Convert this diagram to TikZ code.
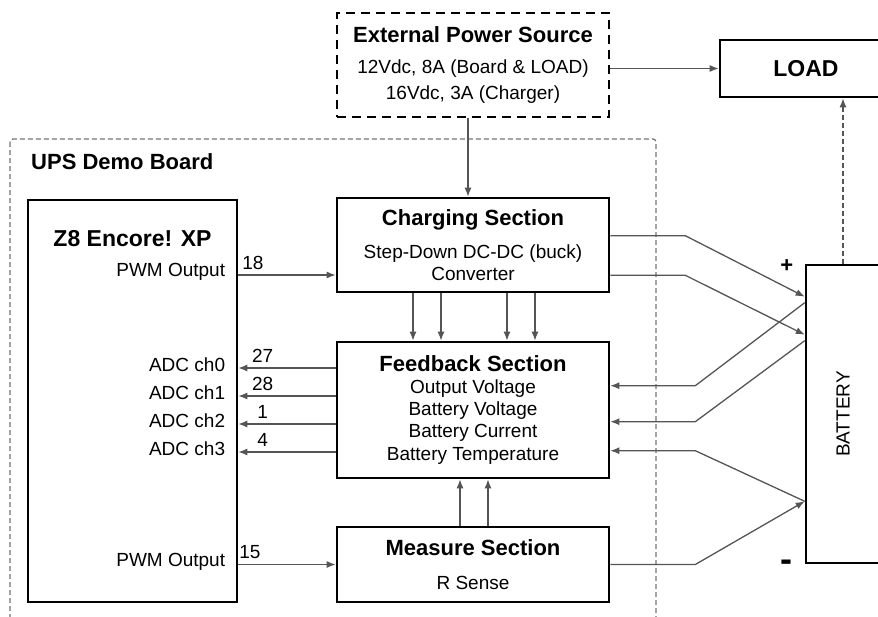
\documentclass[tikz,border=0pt]{standalone}
\usepackage{fontspec}
\setmainfont{Liberation Sans}
\usepackage{xcolor}
\usepackage{tikz}
\usetikzlibrary{arrows.meta}
\definecolor{wiregray}{RGB}{85, 85, 85}
\definecolor{framegray}{RGB}{115, 115, 115}

\newcommand{\sectext}{\fontsize{19}{22.4}\selectfont}
\newcommand{\sechead}{\fontsize{22}{26}\selectfont\bfseries}
\newcommand{\bighead}{\fontsize{23}{27}\selectfont\bfseries}

\tikzset{
  block/.style={draw=black, line width=2.6pt, inner sep=0pt, align=center, font=\sectext},
  wire/.style={draw=wiregray, line width=1.3pt},
  sig/.style={font=\sectext, inner sep=0pt},
  num/.style={font=\sectext, inner sep=1pt, above=4pt},
  board/.style={draw=framegray, line width=1.2pt, dash pattern=on 5pt off 3pt, rounded corners=3pt}
}

\begin{document}
\begin{tikzpicture}[x=1pt, y=-1pt, >={Latex[length=9pt, width=7pt]}]
    \useasboundingbox (0,0) rectangle (878,616);

    % UPS demo board frame
    \draw[board] (10,139) rectangle (656,640);
    \node[font=\sechead, anchor=west, inner sep=0pt] (boardlabel) at (31,162) {UPS Demo Board};

    % Blocks
    \node[block, minimum width=272pt, minimum height=104pt, dash pattern=on 9pt off 6pt] (ext) at (473,65)
        {{\sechead External Power Source}\\[8.5pt] 12Vdc, 8A (Board \& LOAD)\\[3.5pt] 16Vdc, 3A (Charger)};
    \node[block, minimum width=172pt, minimum height=57pt, font=\bighead] (load) at (806,68.5) {LOAD};
    \node[block, minimum width=209pt, minimum height=402pt] (mcu) at (132.5,401) {};
    \node[font=\bighead, inner sep=0pt] (mcutitle) at ([yshift=-40pt]mcu.north) {Z8 Encore! XP};
    \node[block, minimum width=272pt, minimum height=94pt] (charge) at (473,245)
        {{\sechead Charging Section}\\[10.5pt] Step-Down DC-DC (buck)\\ Converter};
    \node[block, minimum width=272pt, minimum height=136pt] (fb) at (473,410)
        {{\sechead Feedback Section}\\[-1pt] Output Voltage\\ Battery Voltage\\ Battery Current\\ Battery Temperature};
    \node[block, minimum width=272pt, minimum height=75pt] (meas) at (473,564.5)
        {{\sechead Measure Section}\\[11.5pt] R Sense};
    \node[block, minimum width=74pt, minimum height=298pt] (bat) at (843,414) {};
    \node[sig, rotate=90] (batlabel) at (bat.center) {BATTERY};
    \node[font=\sechead, inner sep=0pt] (plus) at ([xshift=-18pt, yshift=-2pt]bat.north west) {+};
    \node[font=\fontsize{36}{40}\selectfont\bfseries, inner sep=0pt] (minus) at ([xshift=-18pt, yshift=-1pt]bat.south west) {-};

    % Power paths
    \draw[wire, ->] ([xshift=-5pt]ext.south) -- ([xshift=-5pt]charge.north);
    \draw[wire, ->] (ext.east |- load.west) -- (load.west);
    \draw[wire, ->, dash pattern=on 5pt off 3pt] (bat.north) -- (bat.north |- load.south);

    % Charging to battery
    \draw[wire, ->] ([yshift=-39pt]charge.north east) -- ++(75,0) -- ([yshift=-33pt]bat.north west);
    \draw[wire, ->] ([yshift=18pt]charge.south east) -- ++(75,0) -- ([yshift=-71pt]bat.north west);

    % Battery to feedback
    \draw[wire, <-] ([yshift=-45pt]fb.north east) -- ++(85,0) -- ([yshift=-39pt]bat.north west);
    \draw[wire, <-] ([yshift=-81pt]fb.north east) -- ++(85,0) -- ([yshift=-77pt]bat.north west);
    \draw[wire, <-] ([yshift=-110pt]fb.north east) -- ++(85,0) -- ([yshift=63pt]bat.south west);
    \draw[wire, ->] (meas.east) -- ++(85,0) -- ([yshift=63pt]bat.south west);

    % Inner arrows
    \foreach \dx in {-60,-32,34,62}
        \draw[wire, ->] ([xshift=\dx pt]charge.south) -- ([xshift=\dx pt]fb.north);
    \foreach \dx in {-13,15}
        \draw[wire, ->] ([xshift=\dx pt]meas.north) -- ([xshift=\dx pt]fb.south);

    % Controller pins
    \coordinate (pwmout1) at (mcu.east |- 0,275);
    \coordinate (pwmout2) at (mcu.east |- meas.west);
    \node[sig, anchor=east] (pwm1) at ([xshift=-13pt, yshift=3pt]pwmout1) {PWM Output};
    \node[sig, anchor=east] (pwm2) at ([xshift=-13pt, yshift=3pt]pwmout2) {PWM Output};
    \draw[wire, ->] (pwmout1) -- node[num, pos=0.15] {18} (charge.west |- pwmout1);
    \draw[wire, ->] (pwmout2) -- node[num, pos=0.12] {15} (meas.west);
    \foreach \ch/\y/\pin in {0/368/27, 1/396/28, 2/424/1, 3/452/4} {
        \coordinate (adcin\ch) at (mcu.east |- 0,\y);
        \node[sig, anchor=east] (adc\ch) at ([xshift=-13pt, yshift=3pt]adcin\ch) {ADC ch\ch};
        \draw[wire, <-] (adcin\ch) -- node[num, pos=0.25] {\pin} (fb.west |- adcin\ch);
    }
\end{tikzpicture}
\end{document}
